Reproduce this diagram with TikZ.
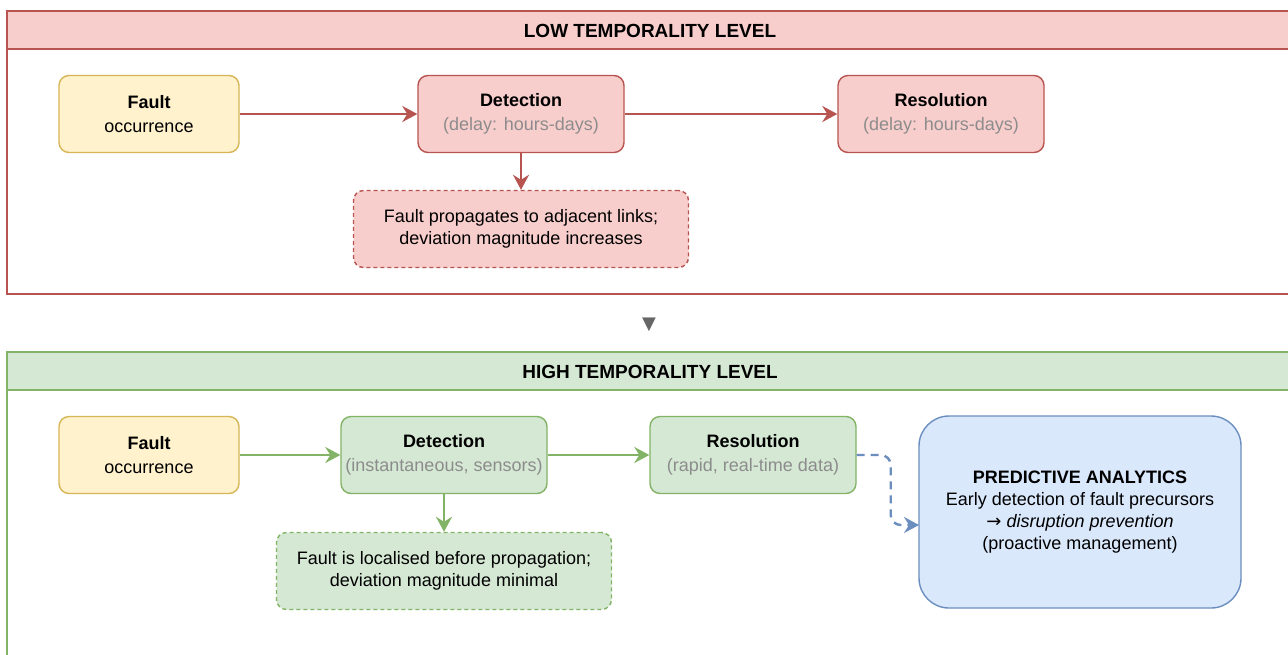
\documentclass[tikz,border=0pt]{standalone}
\usepackage{fontspec}
\setmainfont{Liberation Sans}
\newfontfamily\symbolfont{DejaVu Sans}
\usetikzlibrary{arrows.meta}

\definecolor{lowfill}{HTML}{F8CECC}
\definecolor{lowline}{HTML}{B85450}
\definecolor{highfill}{HTML}{D5E8D4}
\definecolor{highline}{HTML}{82B366}
\definecolor{faultfill}{HTML}{FFF2CC}
\definecolor{faultline}{HTML}{D6B656}
\definecolor{predfill}{HTML}{DAE8FC}
\definecolor{predline}{HTML}{6C8EBF}
\definecolor{softgrey}{HTML}{8C8C8C}
\definecolor{markgrey}{HTML}{666666}

\newcommand{\greytext}[1]{{\color{softgrey}#1}}

\tikzset{
  box/.style={draw, rounded corners=5pt, line width=0.7pt, align=center,
    inner sep=0pt, minimum height=38.5pt, font=\fontsize{9}{12}\selectfont},
  faultbox/.style={box, fill=faultfill, draw=faultline, minimum width=90pt},
  lowbox/.style={box, fill=lowfill, draw=lowline, minimum width=103pt},
  highbox/.style={box, fill=highfill, draw=highline, minimum width=103pt},
  notebox/.style={dash pattern=on 2pt off 1.5pt, minimum width=167.5pt,
    font=\fontsize{9}{11}\selectfont},
  leveltitle/.style={font=\bfseries\fontsize{9.5}{11}\selectfont},
  lowarrow/.style={draw=lowline, line width=1.2pt},
  higharrow/.style={draw=highline, line width=1.2pt},
}

\begin{document}
\begin{tikzpicture}[x=0.5pt, y=-0.5pt, >={Stealth[length=7.5pt,width=8pt,inset=2.5pt]}]
  \useasboundingbox (0,0) rectangle (1288,654);

  % low temporality level
  \draw[draw=lowline, line width=0.6pt, fill=white] (7,11) rectangle (1296,294);
  \draw[draw=lowline, line width=0.6pt, fill=lowfill] (7,11) rectangle (1296,49);
  \node[leveltitle] (lowtitle) at (650,31) {LOW TEMPORALITY LEVEL};

  \node[faultbox] (lowfault) at (149,114) {\textbf{Fault}\\occurrence};
  \node[lowbox] (lowdetect) at (521,114) {\textbf{Detection}\\\greytext{(delay: hours-days)}};
  \node[lowbox] (lowresol) at (941,114) {\textbf{Resolution}\\\greytext{(delay: hours-days)}};
  \node[lowbox, notebox] (lowprop) at (521,229) {Fault propagates to adjacent links;\\deviation magnitude increases};

  \draw[->, lowarrow] (lowfault) -- (lowdetect);
  \draw[->, lowarrow] (lowdetect) -- (lowresol);
  \draw[->, lowarrow] (lowdetect) -- (lowprop);

  \node[text=markgrey, font=\symbolfont\fontsize{9}{9}\selectfont] (levelmark) at (649,325) {▼};

  % high temporality level
  \draw[draw=highline, line width=0.6pt, fill=white] (7,352) rectangle (1296,664);
  \draw[draw=highline, line width=0.6pt, fill=highfill] (7,352) rectangle (1296,390);
  \node[leveltitle] (hightitle) at (650,372) {HIGH TEMPORALITY LEVEL};

  \node[faultbox] (highfault) at (149,455) {\textbf{Fault}\\occurrence};
  \node[highbox] (highdetect) at (444,455) {\textbf{Detection}\\\greytext{(instantaneous, sensors)}};
  \node[highbox] (highresol) at (753,455) {\textbf{Resolution}\\\greytext{(rapid, real-time data)}};
  \node[highbox, notebox] (highloc) at (444,571) {Fault is localised before propagation;\\deviation magnitude minimal};

  \node[box, fill=predfill, draw=predline, rounded corners=15pt, minimum width=161pt,
    minimum height=96pt, font=\fontsize{9}{11}\selectfont] (predict) at (1080,512)
    {\textbf{PREDICTIVE ANALYTICS}\\Early detection of fault precursors\\
     {\symbolfont→} \textit{disruption prevention}\\(proactive management)};

  \draw[->, higharrow] (highfault) -- (highdetect);
  \draw[->, higharrow] (highdetect) -- (highresol);
  \draw[->, higharrow] (highdetect) -- (highloc);

  \coordinate (predin) at (919,525);
  \draw[->, draw=predline, line width=1.2pt, dash pattern=on 4pt off 3pt, rounded corners=5pt]
    (highresol.east) -- ++(34,0) |- (predin);
\end{tikzpicture}
\end{document}
